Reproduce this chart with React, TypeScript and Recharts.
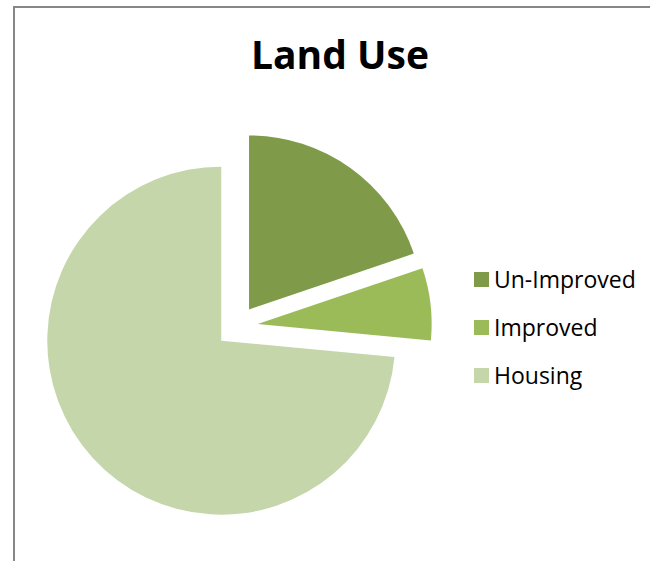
import { PieChart, Pie, Cell, Legend } from "recharts";

const categories = ["Un-Improved", "Improved", "Housing"];
const shares = [19.8, 6.7, 73.5];
const colors = ["#7f9b4a", "#9bbb59", "#c5d6ab"];

const CX = 236.8;
const CY = 326.5;
const RADIUS = 174;
const EXPLODE = 21;

const data = categories.map((name, i) => ({ name, value: shares[i] }));

// each slice is pushed out along its own bisector, like an Excel exploded pie
const total = shares.reduce((a, b) => a + b, 0);
let running = 0;
const offsets = shares.map((v) => {
  const mid = ((running + v / 2) / total) * Math.PI * 2;
  running += v;
  return { dx: EXPLODE * Math.sin(mid), dy: -EXPLODE * Math.cos(mid) };
});

function LandLegend() {
  return (
    <div style={{ fontFamily: "'Open Sans', sans-serif", fontSize: 23, color: "#000" }}>
      {categories.map((name, i) => (
        <div key={name} style={{ display: "flex", alignItems: "center", height: 48 }}>
          <div style={{ width: 15, height: 15, background: colors[i], marginRight: 5 }} />
          <span>{name}</span>
        </div>
      ))}
    </div>
  );
}

export default function App() {
  return (
    <div style={{ position: "absolute", left: 0, top: 0, width: 650, height: 561, background: "#fff", overflow: "hidden" }}>
      {/* chart frame, only the top and left edges are visible */}
      <div
        style={{
          position: "absolute",
          left: 13,
          top: 6,
          right: -4,
          bottom: -4,
          borderLeft: "2px solid #878787",
          borderTop: "2px solid #878787",
        }}
      />
      <div
        style={{
          position: "absolute",
          left: 0,
          top: 34,
          width: 680,
          textAlign: "center",
          fontFamily: "'Open Sans', sans-serif",
          fontWeight: 700,
          fontSize: 39,
          lineHeight: "39px",
          color: "#000",
        }}
      >
        Land Use
      </div>
      <div style={{ position: "absolute", left: 0, top: 0 }}>
        <PieChart width={650} height={561} margin={{ top: 0, right: 0, bottom: 0, left: 0 }}>
          {categories.map((_, k) => (
            <Pie
              key={k}
              data={data}
              dataKey="value"
              nameKey="name"
              cx={CX + offsets[k].dx}
              cy={CY + offsets[k].dy}
              outerRadius={RADIUS}
              startAngle={90}
              endAngle={-270}
              stroke="none"
              legendType={k === 0 ? "square" : "none"}
              isAnimationActive={false}
            >
              {data.map((entry, i) => (
                <Cell key={`cell-${i}`} fill={i === k ? colors[i] : "transparent"} stroke="none" />
              ))}
            </Pie>
          ))}
          <Legend
            layout="vertical"
            content={<LandLegend />}
            wrapperStyle={{ left: 474, top: 255, width: 176, bottom: "auto", right: "auto" }}
          />
        </PieChart>
      </div>
    </div>
  );
}
